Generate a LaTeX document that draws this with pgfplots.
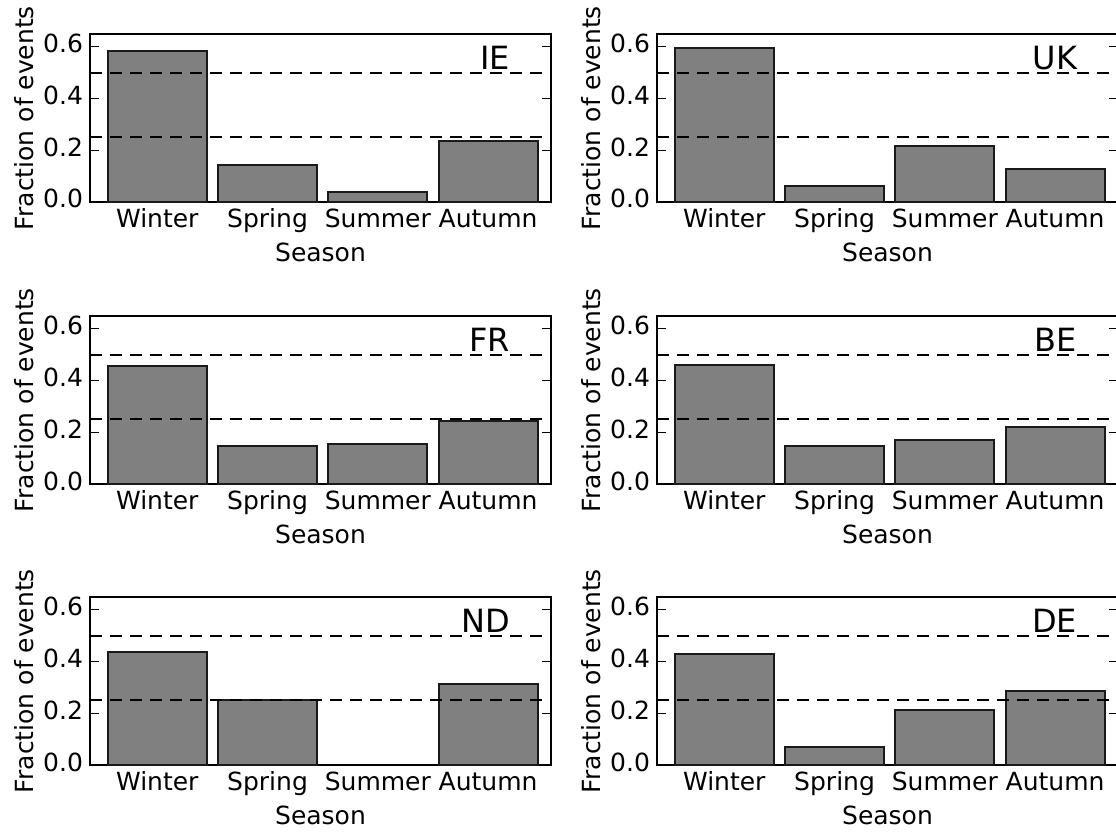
\documentclass[border=0pt]{standalone}
\usepackage{fontspec}
\setmainfont{DejaVu Sans}
\usepackage{pgfplots}
\pgfplotsset{compat=1.18}
\definecolor{barfill}{HTML}{808080}
\definecolor{baredge}{HTML}{1A1A1A}
\pgfplotsset{
  panel/.style={
    scale only axis, width=230.5pt, height=84pt,
    anchor=south west,
    xmin=-0.61, xmax=3.57, ymin=0, ymax=0.65,
    xtick={0,1,2,3}, xticklabels={Winter,Spring,Summer,Autumn},
    ytick={0,0.2,0.4,0.6},
    major x tick style={draw=none},
    tick align=inside,
    major tick length=4.5pt,
    major y tick style={line width=0.5pt, black},
    yticklabel style={/pgf/number format/.cd,fixed,fixed zerofill,precision=1},
    /pgf/number format/assume math mode=true,
    typeset ticklabels with strut,
    ticklabel style={font=\fontsize{12.5}{15}\selectfont},
    xticklabel style={inner sep=2pt},
    label style={font=\fontsize{12.5}{15}\selectfont},
    xlabel={Season}, ylabel={Fraction of events},
    xlabel style={inner sep=1pt},
    ylabel style={inner sep=1pt},
    axis line style={line width=0.7pt},
    clip=false,
  },
  bars/.style={ybar, bar width=0.9, bar shift=0pt, fill=barfill, draw=baredge, line width=1pt},
  refl/.style={black, line width=1.1pt, dash pattern=on 6pt off 4pt},
}
\newcommand{\panel}[4]{%
  \begin{axis}[panel, at={(#1,#2)}]
    \addplot[bars] coordinates {#4};
    \addplot[refl] coordinates {(-0.61,0.25) (3.57,0.25)};
    \addplot[refl] coordinates {(-0.61,0.5) (3.57,0.5)};
    \node[anchor=east, inner sep=0pt, font=\fontsize{16}{19}\selectfont] at (rel axis cs:0.912,0.857) {#3};
  \end{axis}}
\begin{document}
\begin{tikzpicture}
\useasboundingbox (0,0) rectangle (558pt,416pt);
\panel{45pt}{315pt}{IE}{(0,0.585) (1,0.144) (2,0.037) (3,0.235)}
\panel{328.5pt}{315pt}{UK}{(0,0.596) (1,0.063) (2,0.218) (3,0.126)}
\panel{45pt}{174pt}{FR}{(0,0.458) (1,0.147) (2,0.154) (3,0.244)}
\panel{328.5pt}{174pt}{BE}{(0,0.462) (1,0.147) (2,0.171) (3,0.222)}
\panel{45pt}{33.5pt}{ND}{(0,0.439) (1,0.252) (3,0.312)}
\panel{328.5pt}{33.5pt}{DE}{(0,0.428) (1,0.071) (2,0.214) (3,0.286)}
\end{tikzpicture}
\end{document}
